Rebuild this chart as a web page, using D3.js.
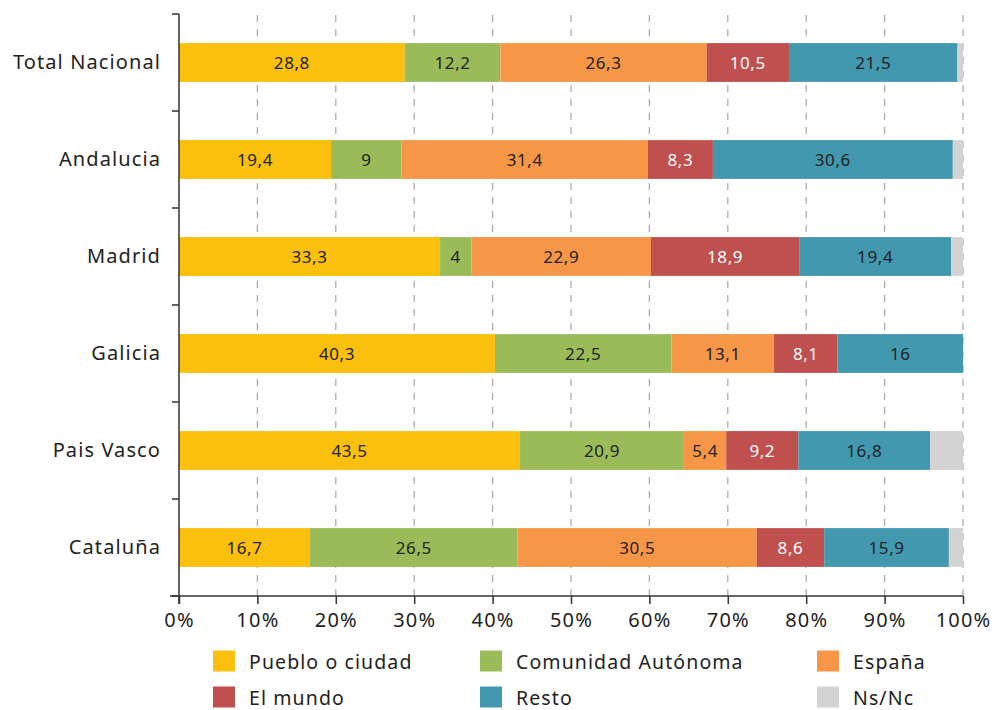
<!DOCTYPE html>
<html><head><meta charset="utf-8">
<script src="https://cdn.jsdelivr.net/npm/d3@7"></script>
<style>body{margin:0;background:#fff}svg{font-family:"Noto Sans",sans-serif}</style>
</head><body><svg id="c" width="996" height="710"></svg>
<script>
const categories = ["Total Nacional","Andalucia","Madrid","Galicia","Pais Vasco","Cataluña"];
const seriesNames = ["Pueblo o ciudad","Comunidad Autónoma","España","El mundo","Resto","Ns/Nc"];
const pueblo    = [28.8,19.4,33.3,40.3,43.5,16.7];
const comunidad = [12.2,9,4,22.5,20.9,26.5];
const espana    = [26.3,31.4,22.9,13.1,5.4,30.5];
const mundo     = [10.5,8.3,18.9,8.1,9.2,8.6];
const resto     = [21.5,30.6,19.4,16,16.8,15.9];
const nsnc      = [0.7,1.3,1.5,0,4.2,1.8];
const xTicks = [0,10,20,30,40,50,60,70,80,90,100];
const colors = ["#FBC00D","#9BBB59","#F79646","#C0504D","#4198AF","#D3D3D3"];
const labelColors = ["#222","#222","#222","#fff","#222",null];

const series = [pueblo,comunidad,espana,mundo,resto,nsnc];
const svg = d3.select("#c");
const x = d3.scaleLinear().domain([0,100]).range([179,963]);
const y = d3.scaleBand().domain(categories).range([14,596]).paddingInner(0.6).paddingOuter(0.3);
const band = (596-14)/categories.length;

// gridlines
svg.append("g").selectAll("line").data(xTicks.slice(1)).join("line")
  .attr("x1",d=>x(d)).attr("x2",d=>x(d)).attr("y1",15).attr("y2",596)
  .attr("stroke","#a6a6a6").attr("stroke-width",1.2).attr("stroke-dasharray","7,7");

// bars
categories.forEach((c,i)=>{
  let cum=0;
  series.forEach((s,k)=>{
    const v=s[i];
    if(v>0){
      svg.append("rect").attr("x",x(cum)).attr("width",x(cum+v)-x(cum))
        .attr("y",y(c)).attr("height",y.bandwidth()).attr("fill",colors[k]);
      if(labelColors[k]){
        svg.append("text").attr("x",x(cum+v/2)).attr("y",y(c)+y.bandwidth()/2)
          .attr("text-anchor","middle").attr("dominant-baseline","central")
          .attr("font-size",17).attr("letter-spacing",0.6).attr("fill",labelColors[k])
          .text(String(v).replace(".",","));
      }
    }
    cum+=v;
  });
});

// y axis
const yAxis = svg.append("g");
yAxis.append("line").attr("x1",179).attr("x2",179).attr("y1",14).attr("y2",604).attr("stroke","#333").attr("stroke-width",1.5);
d3.range(categories.length+1).forEach(i=>{
  yAxis.append("line").attr("x1",172).attr("x2",179).attr("y1",14+i*band).attr("y2",14+i*band).attr("stroke","#333").attr("stroke-width",1.5);
});
yAxis.selectAll("text").data(categories).join("text")
  .attr("x",161).attr("y",d=>y(d)+y.bandwidth()/2-1).attr("text-anchor","end")
  .attr("dominant-baseline","central").attr("font-size",20).attr("letter-spacing",1.1).attr("fill","#222").text(d=>d);

// x axis
const xAxis = svg.append("g").attr("transform","translate(0,596)")
  .call(d3.axisBottom(x).tickValues(xTicks).tickSize(8).tickFormat(d=>d+"%"));
xAxis.select(".domain").attr("d","M170,0H963").attr("stroke","#333").attr("stroke-width",1.5);
xAxis.selectAll(".tick line").attr("stroke","#333").attr("stroke-width",1.5);
xAxis.selectAll(".tick text").attr("font-size",20).attr("letter-spacing",1.2).attr("fill","#222")
  .attr("font-family","Noto Sans").attr("dy","0.32em").attr("y",25);

// legend
const legX=[213,480,817], legY=[661,697];
seriesNames.forEach((n,k)=>{
  const g=svg.append("g").attr("transform",`translate(${legX[k%3]},${legY[Math.floor(k/3)]})`);
  g.append("rect").attr("x",0).attr("y",-10.5).attr("width",22).attr("height",21).attr("fill",colors[k]);
  g.append("text").attr("x",36).attr("y",0).attr("dominant-baseline","central").attr("font-size",19.5)
    .attr("letter-spacing",1.1).attr("fill","#222").text(n);
});
</script></body></html>
